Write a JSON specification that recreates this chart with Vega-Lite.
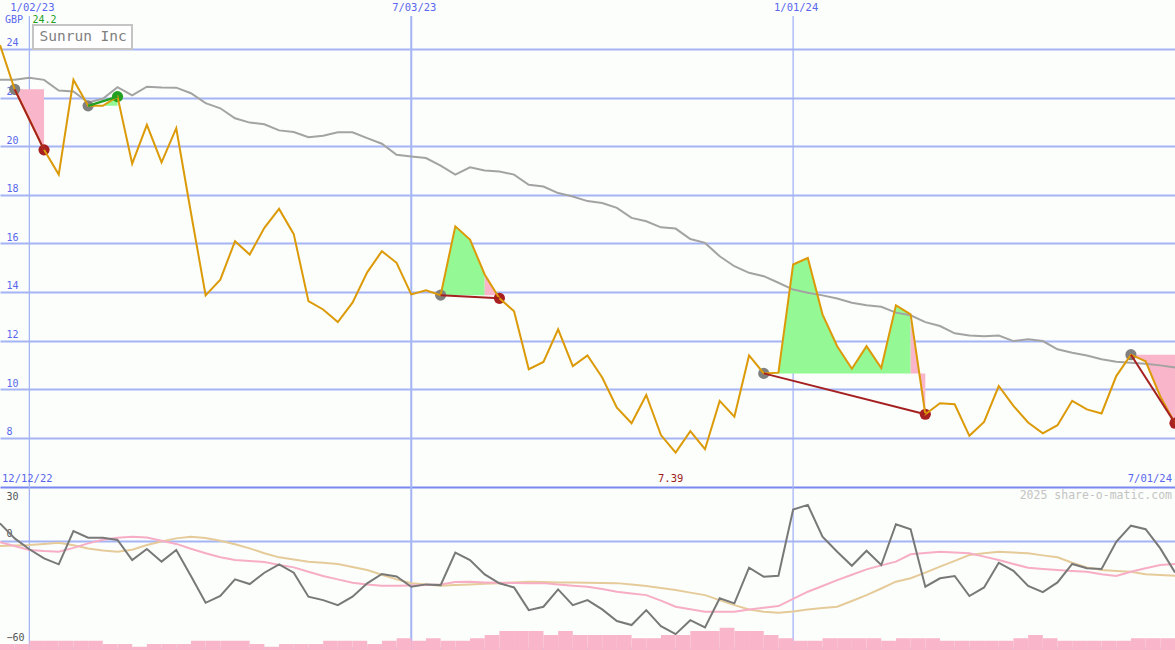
{
  "$schema": "https://vega.github.io/schema/vega-lite/v6.json",
  "width": 1175,
  "height": 650,
  "autosize": "none",
  "padding": 0,
  "background": "#fbfefb",
  "config": {
    "view": {"stroke": null},
    "axis": {"domain": false, "ticks": false, "labelFlush": false, "labelOverlap": false},
    "legend": {"strokeWidth": 2}
  },
  "datasets": {
    "weekly": [
      {"date":"2022-12-19","price":24.16,"ma":22.73,"osc":9.7,"osc_avg1":-0.9,"osc_avg2":-3.0,"volume":24},
      {"date":"2022-12-26","price":22.34,"ma":22.73,"osc":1.3,"osc_avg1":-3.0,"osc_avg2":-2.7,"volume":24},
      {"date":"2023-01-02","price":21.1,"ma":22.82,"osc":-4.8,"osc_avg1":-5.2,"osc_avg2":-2.4,"volume":37},
      {"date":"2023-01-09","price":19.85,"ma":22.73,"osc":-9.9,"osc_avg1":-5.8,"osc_avg2":-1.8,"volume":37},
      {"date":"2023-01-16","price":18.83,"ma":22.29,"osc":-13.2,"osc_avg1":-6.2,"osc_avg2":-1.1,"volume":37},
      {"date":"2023-01-23","price":22.73,"ma":22.25,"osc":5.4,"osc_avg1":-4.0,"osc_avg2":-2.5,"volume":37},
      {"date":"2023-01-30","price":21.66,"ma":21.8,"osc":1.7,"osc_avg1":-1.5,"osc_avg2":-4.3,"volume":37},
      {"date":"2023-02-06","price":21.66,"ma":21.95,"osc":1.7,"osc_avg1":0.5,"osc_avg2":-5.5,"volume":24},
      {"date":"2023-02-13","price":22.04,"ma":22.43,"osc":0.4,"osc_avg1":1.7,"osc_avg2":-6.2,"volume":24},
      {"date":"2023-02-20","price":19.28,"ma":22.09,"osc":-10.8,"osc_avg1":2.2,"osc_avg2":-5.0,"volume":13},
      {"date":"2023-02-27","price":20.88,"ma":22.45,"osc":-4.6,"osc_avg1":1.8,"osc_avg2":-2.4,"volume":24},
      {"date":"2023-03-06","price":19.33,"ma":22.42,"osc":-11.7,"osc_avg1":0.0,"osc_avg2":-0.5,"volume":24},
      {"date":"2023-03-13","price":20.74,"ma":22.41,"osc":-5.2,"osc_avg1":-1.8,"osc_avg2":1.3,"volume":24},
      {"date":"2023-03-20","price":17.26,"ma":22.18,"osc":-19.7,"osc_avg1":-4.5,"osc_avg2":2.2,"volume":37},
      {"date":"2023-03-27","price":13.86,"ma":21.77,"osc":-34.7,"osc_avg1":-7.0,"osc_avg2":1.5,"volume":37},
      {"date":"2023-04-03","price":14.51,"ma":21.56,"osc":-30.9,"osc_avg1":-9.2,"osc_avg2":0.0,"volume":37},
      {"date":"2023-04-10","price":16.09,"ma":21.15,"osc":-21.6,"osc_avg1":-10.8,"osc_avg2":-2.0,"volume":37},
      {"date":"2023-04-17","price":15.54,"ma":20.97,"osc":-24.2,"osc_avg1":-11.4,"osc_avg2":-4.3,"volume":24},
      {"date":"2023-04-24","price":16.64,"ma":20.9,"osc":-17.9,"osc_avg1":-11.9,"osc_avg2":-7.0,"volume":13},
      {"date":"2023-05-01","price":17.42,"ma":20.65,"osc":-13.2,"osc_avg1":-13.5,"osc_avg2":-9.3,"volume":24},
      {"date":"2023-05-08","price":16.38,"ma":20.58,"osc":-17.9,"osc_avg1":-14.9,"osc_avg2":-10.5,"volume":24},
      {"date":"2023-05-15","price":13.62,"ma":20.37,"osc":-31.3,"osc_avg1":-17.3,"osc_avg2":-11.7,"volume":24},
      {"date":"2023-05-22","price":13.28,"ma":20.43,"osc":-33.2,"osc_avg1":-19.7,"osc_avg2":-12.3,"volume":37},
      {"date":"2023-05-29","price":12.76,"ma":20.57,"osc":-36.0,"osc_avg1":-21.6,"osc_avg2":-13.0,"volume":37},
      {"date":"2023-06-05","price":13.56,"ma":20.57,"osc":-31.3,"osc_avg1":-23.5,"osc_avg2":-14.7,"volume":37},
      {"date":"2023-06-12","price":14.81,"ma":20.33,"osc":-23.8,"osc_avg1":-24.5,"osc_avg2":-16.4,"volume":24},
      {"date":"2023-06-19","price":15.68,"ma":20.1,"osc":-18.6,"osc_avg1":-25.2,"osc_avg2":-19.0,"volume":37},
      {"date":"2023-06-26","price":15.2,"ma":19.65,"osc":-20.0,"osc_avg1":-25.2,"osc_avg2":-21.6,"volume":47},
      {"date":"2023-07-03","price":13.9,"ma":19.58,"osc":-25.7,"osc_avg1":-25.0,"osc_avg2":-23.8,"volume":37},
      {"date":"2023-07-10","price":14.07,"ma":19.51,"osc":-24.4,"osc_avg1":-24.7,"osc_avg2":-24.5,"volume":47},
      {"date":"2023-07-17","price":13.87,"ma":19.2,"osc":-24.8,"osc_avg1":-24.4,"osc_avg2":-25.2,"volume":37},
      {"date":"2023-07-24","price":16.7,"ma":18.83,"osc":-6.7,"osc_avg1":-23.1,"osc_avg2":-24.8,"volume":37},
      {"date":"2023-07-31","price":16.16,"ma":19.13,"osc":-10.8,"osc_avg1":-23.0,"osc_avg2":-24.4,"volume":47},
      {"date":"2023-08-07","price":14.72,"ma":19.0,"osc":-18.8,"osc_avg1":-23.3,"osc_avg2":-24.0,"volume":60},
      {"date":"2023-08-14","price":13.74,"ma":18.96,"osc":-23.8,"osc_avg1":-23.5,"osc_avg2":-23.7,"volume":76},
      {"date":"2023-08-21","price":13.21,"ma":18.83,"osc":-26.1,"osc_avg1":-23.6,"osc_avg2":-23.3,"volume":76},
      {"date":"2023-08-28","price":10.82,"ma":18.41,"osc":-38.8,"osc_avg1":-23.7,"osc_avg2":-22.9,"volume":76},
      {"date":"2023-09-04","price":11.12,"ma":18.34,"osc":-36.9,"osc_avg1":-23.7,"osc_avg2":-23.1,"volume":60},
      {"date":"2023-09-11","price":12.46,"ma":18.07,"osc":-27.2,"osc_avg1":-24.5,"osc_avg2":-23.3,"volume":76},
      {"date":"2023-09-18","price":10.95,"ma":17.93,"osc":-36.0,"osc_avg1":-25.1,"osc_avg2":-23.4,"volume":60},
      {"date":"2023-09-25","price":11.39,"ma":17.74,"osc":-33.2,"osc_avg1":-25.7,"osc_avg2":-23.5,"volume":60},
      {"date":"2023-10-02","price":10.48,"ma":17.66,"osc":-38.4,"osc_avg1":-27.0,"osc_avg2":-23.6,"volume":60},
      {"date":"2023-10-09","price":9.24,"ma":17.46,"osc":-44.9,"osc_avg1":-28.5,"osc_avg2":-23.7,"volume":60},
      {"date":"2023-10-16","price":8.6,"ma":17.05,"osc":-47.1,"osc_avg1":-29.5,"osc_avg2":-24.5,"volume":47},
      {"date":"2023-10-23","price":9.76,"ma":16.91,"osc":-38.8,"osc_avg1":-30.4,"osc_avg2":-25.3,"volume":47},
      {"date":"2023-10-30","price":8.11,"ma":16.66,"osc":-47.7,"osc_avg1":-33.5,"osc_avg2":-26.4,"volume":60},
      {"date":"2023-11-06","price":7.39,"ma":16.61,"osc":-52.2,"osc_avg1":-36.9,"osc_avg2":-27.6,"volume":60},
      {"date":"2023-11-13","price":8.27,"ma":16.18,"osc":-44.4,"osc_avg1":-38.3,"osc_avg2":-29.0,"volume":76},
      {"date":"2023-11-20","price":7.53,"ma":16.02,"osc":-48.4,"osc_avg1":-39.7,"osc_avg2":-30.4,"volume":76},
      {"date":"2023-11-27","price":9.52,"ma":15.47,"osc":-32.2,"osc_avg1":-39.7,"osc_avg2":-33.2,"volume":89},
      {"date":"2023-12-04","price":8.87,"ma":15.06,"osc":-35.0,"osc_avg1":-39.7,"osc_avg2":-36.0,"volume":76},
      {"date":"2023-12-11","price":11.39,"ma":14.79,"osc":-15.1,"osc_avg1":-38.4,"osc_avg2":-38.4,"volume":76},
      {"date":"2023-12-18","price":10.65,"ma":14.65,"osc":-20.1,"osc_avg1":-37.5,"osc_avg2":-39.7,"volume":60},
      {"date":"2023-12-25","price":10.68,"ma":14.38,"osc":-19.6,"osc_avg1":-36.5,"osc_avg2":-40.3,"volume":47},
      {"date":"2024-01-01","price":15.13,"ma":14.1,"osc":17.4,"osc_avg1":-32.5,"osc_avg2":-39.5,"volume":37},
      {"date":"2024-01-08","price":15.4,"ma":13.97,"osc":20.0,"osc_avg1":-28.5,"osc_avg2":-38.4,"volume":37},
      {"date":"2024-01-15","price":13.08,"ma":13.86,"osc":2.2,"osc_avg1":-25.3,"osc_avg2":-37.6,"volume":47},
      {"date":"2024-01-22","price":11.77,"ma":13.73,"osc":-6.2,"osc_avg1":-22.0,"osc_avg2":-36.9,"volume":47},
      {"date":"2024-01-29","price":10.84,"ma":13.56,"osc":-14.0,"osc_avg1":-19.0,"osc_avg2":-33.7,"volume":47},
      {"date":"2024-02-05","price":11.77,"ma":13.45,"osc":-5.6,"osc_avg1":-16.0,"osc_avg2":-30.4,"volume":47},
      {"date":"2024-02-12","price":10.87,"ma":13.39,"osc":-13.6,"osc_avg1":-13.8,"osc_avg2":-26.7,"volume":37},
      {"date":"2024-02-19","price":13.45,"ma":13.15,"osc":9.2,"osc_avg1":-11.7,"osc_avg2":-22.9,"volume":47},
      {"date":"2024-02-26","price":13.08,"ma":13.04,"osc":6.4,"osc_avg1":-7.6,"osc_avg2":-21.0,"volume":47},
      {"date":"2024-03-04","price":8.97,"ma":12.76,"osc":-25.7,"osc_avg1":-6.9,"osc_avg2":-17.8,"volume":47},
      {"date":"2024-03-11","price":9.42,"ma":12.6,"osc":-21.0,"osc_avg1":-6.2,"osc_avg2":-14.5,"volume":37},
      {"date":"2024-03-18","price":9.38,"ma":12.3,"osc":-19.7,"osc_avg1":-6.6,"osc_avg2":-11.3,"volume":37},
      {"date":"2024-03-25","price":8.08,"ma":12.21,"osc":-30.9,"osc_avg1":-7.0,"osc_avg2":-8.0,"volume":37},
      {"date":"2024-04-01","price":8.65,"ma":12.18,"osc":-26.1,"osc_avg1":-8.9,"osc_avg2":-7.0,"volume":37},
      {"date":"2024-04-08","price":10.13,"ma":12.21,"osc":-12.3,"osc_avg1":-10.8,"osc_avg2":-6.2,"volume":37},
      {"date":"2024-04-15","price":9.31,"ma":11.98,"osc":-16.8,"osc_avg1":-13.0,"osc_avg2":-6.6,"volume":47},
      {"date":"2024-04-22","price":8.63,"ma":12.05,"osc":-25.3,"osc_avg1":-15.1,"osc_avg2":-7.0,"volume":60},
      {"date":"2024-04-29","price":8.18,"ma":11.98,"osc":-28.7,"osc_avg1":-15.8,"osc_avg2":-8.2,"volume":47},
      {"date":"2024-05-06","price":8.52,"ma":11.64,"osc":-23.3,"osc_avg1":-16.4,"osc_avg2":-9.3,"volume":37},
      {"date":"2024-05-13","price":9.52,"ma":11.5,"osc":-13.0,"osc_avg1":-16.9,"osc_avg2":-12.3,"volume":37},
      {"date":"2024-05-20","price":9.17,"ma":11.39,"osc":-15.4,"osc_avg1":-17.3,"osc_avg2":-14.9,"volume":37},
      {"date":"2024-05-27","price":9.0,"ma":11.23,"osc":-15.8,"osc_avg1":-18.8,"osc_avg2":-16.4,"volume":37},
      {"date":"2024-06-03","price":10.54,"ma":11.13,"osc":-0.6,"osc_avg1":-19.7,"osc_avg2":-16.9,"volume":37},
      {"date":"2024-06-10","price":11.42,"ma":11.09,"osc":8.4,"osc_avg1":-17.3,"osc_avg2":-17.3,"volume":47},
      {"date":"2024-06-17","price":11.15,"ma":11.05,"osc":6.4,"osc_avg1":-15.4,"osc_avg2":-18.8,"volume":47},
      {"date":"2024-06-24","price":9.7,"ma":10.98,"osc":-4.3,"osc_avg1":-13.6,"osc_avg2":-19.2,"volume":47},
      {"date":"2024-07-01","price":8.6,"ma":10.89,"osc":-17.7,"osc_avg1":-13.0,"osc_avg2":-19.6,"volume":47}
    ],
    "events": [
      {"event":"e1","signal":"sell","role":"start","date":"2022-12-26","price":22.34},
      {"event":"e1","signal":"sell","role":"sell","date":"2023-01-09","price":19.85},
      {"event":"e2","signal":"buy","role":"start","date":"2023-01-30","price":21.66},
      {"event":"e2","signal":"buy","role":"buy","date":"2023-02-13","price":22.04},
      {"event":"e3","signal":"sell","role":"start","date":"2023-07-17","price":13.87},
      {"event":"e3","signal":"sell","role":"sell","date":"2023-08-14","price":13.74},
      {"event":"e4","signal":"sell","role":"start","date":"2023-12-18","price":10.65},
      {"event":"e4","signal":"sell","role":"sell","date":"2024-03-04","price":8.97},
      {"event":"e5","signal":"sell","role":"start","date":"2024-06-10","price":11.42},
      {"event":"e5","signal":"sell","role":"sell","date":"2024-07-01","price":8.6}
    ],
    "fills": [
      {"grp":"A","tone":"down","date":"2022-12-26","price":22.34,"base":22.34},
      {"grp":"A","tone":"down","date":"2023-01-02","price":21.1,"base":22.34},
      {"grp":"A","tone":"down","date":"2023-01-09","price":19.85,"base":22.34},
      {"grp":"B","tone":"up","date":"2023-01-30","price":21.66,"base":21.66},
      {"grp":"B","tone":"up","date":"2023-02-06","price":21.66,"base":21.66},
      {"grp":"B","tone":"up","date":"2023-02-13","price":22.04,"base":21.66},
      {"grp":"C","tone":"up","date":"2023-07-17","price":13.87,"base":13.87},
      {"grp":"C","tone":"up","date":"2023-07-24","price":16.7,"base":13.87},
      {"grp":"C","tone":"up","date":"2023-07-31","price":16.16,"base":13.87},
      {"grp":"C","tone":"up","date":"2023-08-07","price":14.72,"base":13.87},
      {"grp":"D","tone":"down","date":"2023-08-07","price":14.72,"base":13.87},
      {"grp":"D","tone":"down","date":"2023-08-14","price":13.74,"base":13.87},
      {"grp":"E","tone":"up","date":"2023-12-18","price":10.65,"base":10.65},
      {"grp":"E","tone":"up","date":"2023-12-25","price":10.68,"base":10.65},
      {"grp":"E","tone":"up","date":"2024-01-01","price":15.13,"base":10.65},
      {"grp":"E","tone":"up","date":"2024-01-08","price":15.4,"base":10.65},
      {"grp":"E","tone":"up","date":"2024-01-15","price":13.08,"base":10.65},
      {"grp":"E","tone":"up","date":"2024-01-22","price":11.77,"base":10.65},
      {"grp":"E","tone":"up","date":"2024-01-29","price":10.84,"base":10.65},
      {"grp":"E","tone":"up","date":"2024-02-05","price":11.77,"base":10.65},
      {"grp":"E","tone":"up","date":"2024-02-12","price":10.87,"base":10.65},
      {"grp":"E","tone":"up","date":"2024-02-19","price":13.45,"base":10.65},
      {"grp":"E","tone":"up","date":"2024-02-26","price":13.08,"base":10.65},
      {"grp":"F","tone":"down","date":"2024-02-26","price":13.08,"base":10.65},
      {"grp":"F","tone":"down","date":"2024-03-04","price":8.97,"base":10.65},
      {"grp":"G","tone":"down","date":"2024-06-10","price":11.42,"base":11.42},
      {"grp":"G","tone":"down","date":"2024-06-17","price":11.15,"base":11.42},
      {"grp":"G","tone":"down","date":"2024-06-24","price":9.7,"base":11.42},
      {"grp":"G","tone":"down","date":"2024-07-01","price":8.6,"base":11.42}
    ]
  },
  "resolve": {"scale": {"y": "independent"}},
  "layer": [
    {
      "layer": [
        {
          "data": {"values": [
            {"date":"2023-01-02","label":"1/02/23"},
            {"date":"2023-07-03","label":"7/03/23"},
            {"date":"2024-01-01","label":"1/01/24"}
          ]},
          "mark": {"type": "rule", "color": "#a5b4f5"},
          "encoding": {
            "x": {"field": "date", "type": "temporal", "axis": null,
                  "scale": {"domain": [{"year": 2022, "month": 12, "date": 19, "utc": true}, {"year": 2024, "month": 7, "date": 1, "utc": true}]}},
            "y": {"datum": 25.36, "type": "quantitative", "title": null,
                  "scale": {"domain": [-0.733, 26.016], "nice": false, "zero": false},
                  "axis": {"orient": "left", "values": [8, 10, 12, 14, 16, 18, 20, 22, 24], "grid": true,
                           "gridColor": "#a5b4f5", "gridWidth": 2, "labelColor": "#5a66ee",
                           "labelFont": "DejaVu Sans Mono", "labelFontSize": 10, "labelAlign": "left",
                           "labelBaseline": "alphabetic", "labelPadding": -6, "labelOffset": -3, "title": null}},
            "y2": {"datum": -0.733},
            "strokeWidth": {"condition": {"test": "utcmonth(datum.date) == 6", "value": 2}, "value": 1.3}
          }
        },
        {
          "data": {"name": "fills"},
          "transform": [{"filter": "datum.tone == 'up'"}],
          "mark": {"type": "area", "color": "#94f994", "opacity": 1},
          "encoding": {
            "x": {"field": "date", "type": "temporal", "axis": null},
            "y": {"field": "price", "type": "quantitative", "title": null},
            "y2": {"field": "base"},
            "detail": {"field": "grp", "type": "nominal"}
          }
        },
        {
          "data": {"name": "fills"},
          "transform": [{"filter": "datum.tone == 'down'"}],
          "mark": {"type": "area", "color": "#f9b5c9", "opacity": 1},
          "encoding": {
            "x": {"field": "date", "type": "temporal", "axis": null},
            "y": {"field": "price", "type": "quantitative", "title": null},
            "y2": {"field": "base"},
            "detail": {"field": "grp", "type": "nominal"}
          }
        },
        {
          "data": {"name": "weekly"},
          "mark": {"type": "line", "color": "#a3a3a3", "strokeWidth": 2},
          "encoding": {
            "x": {"field": "date", "type": "temporal", "axis": null},
            "y": {"field": "ma", "type": "quantitative", "title": null}
          }
        },
        {
          "data": {"name": "events"},
          "mark": {"type": "circle", "size": 125, "opacity": 1},
          "encoding": {
            "x": {"field": "date", "type": "temporal", "axis": null},
            "y": {"field": "price", "type": "quantitative", "title": null},
            "fill": {"field": "role", "type": "nominal", "legend": null,
                     "scale": {"domain": ["start", "sell", "buy"], "range": ["#808080", "#a82020", "#22a022"]}}
          }
        },
        {
          "data": {"name": "weekly"},
          "mark": {"type": "line", "strokeWidth": 2},
          "encoding": {
            "x": {"field": "date", "type": "temporal", "axis": null},
            "y": {"field": "price", "type": "quantitative", "title": null},
            "color": {"datum": "Sunrun Inc", "type": "nominal",
                      "scale": {"range": ["#dc9a08"]},
                      "legend": {"orient": "none", "legendX": 33, "legendY": 25, "title": null,
                                 "strokeColor": "#c4c4c4", "fillColor": "#ffffff", "padding": 5,
                                 "labelFont": "DejaVu Sans Mono", "labelFontSize": 14.5, "labelColor": "#808080",
                                 "symbolSize": 0, "symbolOpacity": 0, "symbolStrokeWidth": 0, "labelOffset": -13}}
          }
        },
        {
          "data": {"name": "events"},
          "transform": [{"filter": "datum.signal == 'sell'"}],
          "mark": {"type": "line", "color": "#a52020", "strokeWidth": 2},
          "encoding": {
            "x": {"field": "date", "type": "temporal", "axis": null},
            "y": {"field": "price", "type": "quantitative", "title": null},
            "detail": {"field": "event", "type": "nominal"}
          }
        },
        {
          "data": {"name": "events"},
          "transform": [{"filter": "datum.signal == 'buy'"}],
          "mark": {"type": "line", "color": "#22a022", "strokeWidth": 2.5},
          "encoding": {
            "x": {"field": "date", "type": "temporal", "axis": null},
            "y": {"field": "price", "type": "quantitative", "title": null},
            "detail": {"field": "event", "type": "nominal"}
          }
        },
        {
          "data": {"values": [
            {"date":"2023-01-02","label":"1/02/23"},
            {"date":"2023-07-03","label":"7/03/23"},
            {"date":"2024-01-01","label":"1/01/24"}
          ]},
          "mark": {"type": "text", "font": "DejaVu Sans Mono", "fontSize": 10.5, "color": "#5a66ee", "dx": 3, "baseline": "middle", "align": "center"},
          "encoding": {
            "x": {"field": "date", "type": "temporal", "axis": null},
            "y": {"datum": 25.69, "type": "quantitative", "title": null},
            "text": {"field": "label", "type": "nominal"}
          }
        },
        {
          "data": {"values": [{"date":"2022-12-19","label":"GBP"}]},
          "mark": {"type": "text", "font": "DejaVu Sans Mono", "fontSize": 10, "color": "#5a66ee", "dx": 5, "baseline": "middle", "align": "left"},
          "encoding": {
            "x": {"field": "date", "type": "temporal", "axis": null},
            "y": {"datum": 25.19, "type": "quantitative", "title": null},
            "text": {"field": "label", "type": "nominal"}
          }
        },
        {
          "data": {"values": [{"date":"2023-01-02","label":"24.2"}]},
          "mark": {"type": "text", "font": "DejaVu Sans Mono", "fontSize": 10, "color": "#22a022", "dx": 3, "baseline": "middle", "align": "left"},
          "encoding": {
            "x": {"field": "date", "type": "temporal", "axis": null},
            "y": {"datum": 25.19, "type": "quantitative", "title": null},
            "text": {"field": "label", "type": "nominal"}
          }
        },
        {
          "data": {"values": [{"date":"2022-12-19","label":"12/12/22"}]},
          "mark": {"type": "text", "font": "DejaVu Sans Mono", "fontSize": 10.5, "color": "#5a66ee", "dx": 2, "baseline": "middle", "align": "left"},
          "encoding": {
            "x": {"field": "date", "type": "temporal", "axis": null},
            "y": {"datum": 6.3, "type": "quantitative", "title": null},
            "text": {"field": "label", "type": "nominal"}
          }
        },
        {
          "data": {"values": [{"date":"2024-07-01","label":"7/01/24"}]},
          "mark": {"type": "text", "font": "DejaVu Sans Mono", "fontSize": 10.5, "color": "#5a66ee", "dx": -3, "baseline": "middle", "align": "right"},
          "encoding": {
            "x": {"field": "date", "type": "temporal", "axis": null},
            "y": {"datum": 6.3, "type": "quantitative", "title": null},
            "text": {"field": "label", "type": "nominal"}
          }
        },
        {
          "data": {"values": [{"date":"2023-11-06","label":"7.39"}]},
          "mark": {"type": "text", "font": "DejaVu Sans Mono", "fontSize": 10.5, "color": "#a02020", "dx": -5, "baseline": "middle", "align": "center"},
          "encoding": {
            "x": {"field": "date", "type": "temporal", "axis": null},
            "y": {"datum": 6.3, "type": "quantitative", "title": null},
            "text": {"field": "label", "type": "nominal"}
          }
        }
      ]
    },
    {
      "data": {"name": "weekly"},
      "transform": [{"window": [{"op": "lead", "field": "date", "as": "next"}], "sort": [{"field": "date", "order": "ascending"}]}],
      "mark": {"type": "rect", "color": "#f9b5c9"},
      "encoding": {
        "x": {"field": "date", "type": "temporal", "axis": null},
        "x2": {"field": "next"},
        "y": {"field": "volume", "type": "quantitative", "title": null, "axis": null,
              "scale": {"domain": [0, 2600], "nice": false, "zero": true}},
        "y2": {"datum": 0}
      }
    },
    {
      "layer": [
        {
          "data": {"name": "weekly"},
          "mark": {"type": "line", "color": "#e6cb9a", "strokeWidth": 2},
          "encoding": {
            "x": {"field": "date", "type": "temporal", "axis": null},
            "y": {"field": "osc_avg2", "type": "quantitative", "title": null,
                  "scale": {"domain": [-61.06, 302.07], "nice": false, "zero": false},
                  "axis": {"orient": "left", "values": [30, 0, -60], "grid": true,
                           "gridColor": {"condition": {"test": "datum.value == 30", "value": "#7888f0"}, "value": "#a5b4f5"},
                           "gridWidth": 2, "labelColor": "#555555",
                           "labelFont": "DejaVu Sans Mono", "labelFontSize": 10, "labelAlign": "left",
                           "labelBaseline": {"condition": {"test": "datum.value == 30", "value": "top"}, "value": "alphabetic"},
                           "labelOffset": {"condition": {"test": "datum.value == 30", "value": 4}, "expr": "datum.value == 0 ? -4 : -8"},
                           "labelPadding": -6, "title": null}}
          }
        },
        {
          "data": {"name": "weekly"},
          "mark": {"type": "line", "color": "#f7adc5", "strokeWidth": 2},
          "encoding": {
            "x": {"field": "date", "type": "temporal", "axis": null},
            "y": {"field": "osc_avg1", "type": "quantitative", "title": null}
          }
        },
        {
          "data": {"name": "weekly"},
          "mark": {"type": "line", "color": "#787878", "strokeWidth": 2},
          "encoding": {
            "x": {"field": "date", "type": "temporal", "axis": null},
            "y": {"field": "osc", "type": "quantitative", "title": null}
          }
        },
        {
          "data": {"values": [{"date":"2024-07-01","label":"2025 share-o-matic.com"}]},
          "mark": {"type": "text", "font": "DejaVu Sans Mono", "fontSize": 11.5, "color": "#c4c4c4", "dx": -3, "baseline": "middle", "align": "right"},
          "encoding": {
            "x": {"field": "date", "type": "temporal", "axis": null},
            "y": {"datum": 24.97, "type": "quantitative", "title": null},
            "text": {"field": "label", "type": "nominal"}
          }
        }
      ]
    }
  ]
}
